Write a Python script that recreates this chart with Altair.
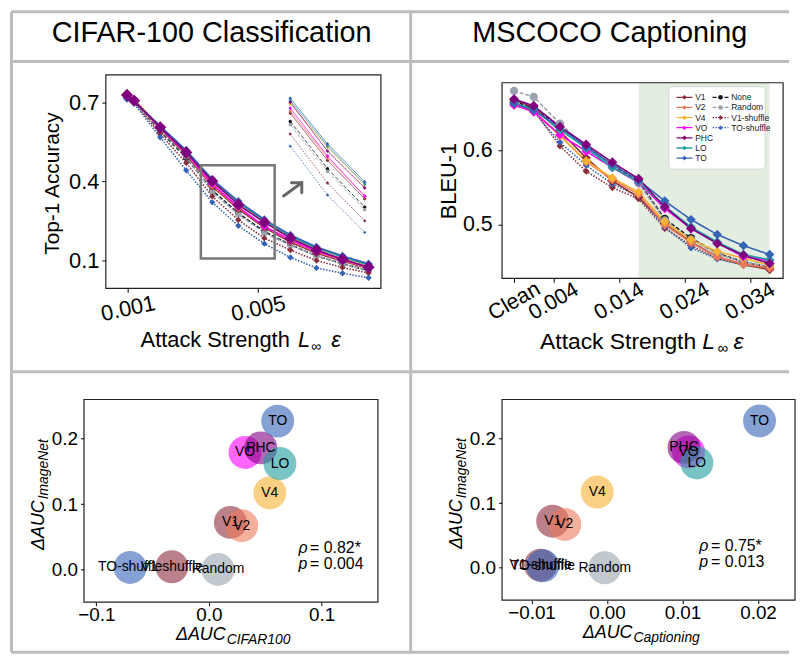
import altair as alt
import pandas as pd

FONT = "Liberation Sans"

# ---------------- data ----------------
series = ["V1", "V2", "V4", "VO", "PHC", "LO", "TO", "None", "Random", "V1-shuffle", "TO-shuffle"]
series_colors = ["#8c2d3c", "#ee7a5c", "#f9b132", "#ff00ff", "#800080", "#1f9e9e", "#3563b5",
                 "#161622", "#98a3ae", "#8c2d3c", "#3563b5"]
series_dash = [[1, 0]] * 7 + [[4, 2], [4, 2], [1.5, 1.5], [1.5, 1.5]]
series_shape = ["diamond"] * 7 + ["circle", "circle", "diamond", "diamond"]
draw_order = ["None", "Random", "V1-shuffle", "TO-shuffle", "V1", "V2", "V4", "VO", "LO", "TO", "PHC"]

cifar_eps = [0.00098, 0.0012, 0.0020, 0.0028, 0.0036, 0.0044, 0.0052, 0.0060, 0.0068, 0.0076, 0.0084]
cifar_acc = {
    "V1":         [0.728, 0.706, 0.600, 0.500, 0.381, 0.295, 0.225, 0.170, 0.128, 0.098, 0.070],
    "V2":         [0.735, 0.708, 0.602, 0.505, 0.385, 0.300, 0.230, 0.175, 0.133, 0.101, 0.072],
    "V4":         [0.732, 0.710, 0.607, 0.512, 0.398, 0.319, 0.250, 0.190, 0.146, 0.112, 0.082],
    "VO":         [0.725, 0.707, 0.603, 0.507, 0.390, 0.303, 0.230, 0.178, 0.136, 0.104, 0.075],
    "PHC":        [0.727, 0.706, 0.605, 0.510, 0.401, 0.312, 0.245, 0.185, 0.140, 0.105, 0.075],
    "LO":         [0.722, 0.705, 0.608, 0.515, 0.404, 0.321, 0.252, 0.192, 0.148, 0.114, 0.084],
    "TO":         [0.715, 0.703, 0.610, 0.518, 0.408, 0.325, 0.256, 0.197, 0.152, 0.118, 0.088],
    "None":       [0.724, 0.703, 0.590, 0.490, 0.366, 0.280, 0.210, 0.160, 0.118, 0.088, 0.062],
    "Random":     [0.726, 0.704, 0.595, 0.495, 0.360, 0.275, 0.205, 0.158, 0.118, 0.088, 0.063],
    "V1-shuffle": [0.720, 0.700, 0.580, 0.470, 0.343, 0.254, 0.185, 0.140, 0.100, 0.074, 0.053],
    "TO-shuffle": [0.710, 0.695, 0.567, 0.442, 0.321, 0.232, 0.164, 0.112, 0.072, 0.052, 0.035],
}
cifar_ticks = [0.001, 0.005]
cifar_yticks = [0.1, 0.4, 0.7]
inset_eps = cifar_eps[4:7]

coco_eps = [-0.002, 0.001, 0.005, 0.009, 0.013, 0.017, 0.021, 0.025, 0.029, 0.033, 0.037]
coco_bleu = {
    "V1":         [0.668, 0.658, 0.626, 0.590, 0.559, 0.537, 0.501, 0.477, 0.457, 0.447, 0.440],
    "V2":         [0.661, 0.652, 0.620, 0.585, 0.561, 0.541, 0.500, 0.476, 0.457, 0.447, 0.442],
    "V4":         [0.661, 0.653, 0.620, 0.586, 0.563, 0.544, 0.504, 0.480, 0.464, 0.455, 0.446],
    "VO":         [0.661, 0.652, 0.621, 0.599, 0.577, 0.557, 0.522, 0.495, 0.476, 0.457, 0.452],
    "PHC":        [0.669, 0.660, 0.632, 0.608, 0.584, 0.562, 0.524, 0.495, 0.475, 0.459, 0.448],
    "LO":         [0.664, 0.655, 0.628, 0.603, 0.577, 0.558, 0.525, 0.497, 0.477, 0.460, 0.453],
    "TO":         [0.663, 0.654, 0.631, 0.605, 0.581, 0.560, 0.532, 0.507, 0.487, 0.472, 0.460],
    "None":       [0.666, 0.657, 0.632, 0.606, 0.580, 0.558, 0.508, 0.482, 0.462, 0.450, 0.443],
    "Random":     [0.680, 0.672, 0.636, 0.604, 0.578, 0.556, 0.506, 0.480, 0.461, 0.450, 0.444],
    "V1-shuffle": [0.664, 0.654, 0.606, 0.572, 0.550, 0.535, 0.495, 0.472, 0.455, 0.446, 0.440],
    "TO-shuffle": [0.662, 0.652, 0.611, 0.580, 0.555, 0.538, 0.497, 0.469, 0.454, 0.446, 0.442],
}
coco_ticks = [-0.002, 0.004, 0.014, 0.024, 0.034]
coco_clean_label = "Clean"
coco_yticks = [0.5, 0.6]
coco_shade = [0.017, 0.037]

scatter_models = ["V1", "V2", "V4", "VO", "PHC", "LO", "TO", "V1-shuffle", "TO-shuffle", "Random"]
dauc_imagenet = [0.072, 0.067, 0.117, 0.179, 0.186, 0.162, 0.227, 0.004, 0.003, 0.000]
dauc_cifar = [0.019, 0.029, 0.054, 0.032, 0.046, 0.063, 0.061, -0.033, -0.070, 0.008]
dauc_caption = [-0.0072, -0.0056, -0.0013, 0.0108, 0.0102, 0.0119, 0.0202, -0.0088, -0.0085, -0.0003]

titles = ["CIFAR-100 Classification", "MSCOCO Captioning"]
rho_text = [("ρ", "= 0.82*", "p", "= 0.004"), ("ρ", "= 0.75*", "p", "= 0.013")]

# ---------------- helpers ----------------
dummy = pd.DataFrame({"d": [0]})
GRID = "#bdbdbd"

color_scale = alt.Scale(domain=series, range=series_colors)
dash_scale = alt.Scale(domain=series, range=series_dash)
shape_scale = alt.Scale(domain=series, range=series_shape)


def seg(x1, y1, x2, y2, color, width, cap="butt"):
    return alt.Chart(dummy).mark_rule(color=color, strokeWidth=width, strokeCap=cap).encode(
        x=alt.value(x1), y=alt.value(y1), x2=alt.value(x2), y2=alt.value(y2))


def box(x1, y1, x2, y2, stroke, width, fill=None, radius=0):
    kw = dict(stroke=stroke, strokeWidth=width, cornerRadius=radius)
    if fill is None:
        kw["fillOpacity"] = 0
    else:
        kw["fill"] = fill
    return alt.Chart(dummy).mark_rect(**kw).encode(
        x=alt.value(x1), y=alt.value(y1), x2=alt.value(x2), y2=alt.value(y2))


def txt(x, y, s, size, align="left", baseline="alphabetic", angle=0, style="normal", color="black"):
    return alt.Chart(dummy).mark_text(text=s, fontSize=size, font=FONT, align=align,
                                      baseline=baseline, angle=angle, fontStyle=style,
                                      color=color).encode(x=alt.value(x), y=alt.value(y))


def long_df(eps, values):
    rows = []
    for s in draw_order:
        for e, v in zip(eps, values[s]):
            rows.append({"series": s, "eps": e, "val": v})
    return pd.DataFrame(rows)


def line_group(df, xscale, yscale, xaxis, yaxis, lw, sizes):
    base = alt.Chart(df)
    X = alt.X("eps:Q", scale=xscale, axis=xaxis)
    Y = alt.Y("val:Q", scale=yscale, axis=yaxis)
    C = alt.Color("series:N", scale=color_scale, legend=None)
    S = alt.Shape("series:N", scale=shape_scale, legend=None)
    lines = base.mark_line(strokeWidth=lw).encode(
        X, Y, C, strokeDash=alt.StrokeDash("series:N", scale=dash_scale, legend=None))
    groups = [["None", "Random"], ["V1-shuffle", "TO-shuffle"],
              ["V1", "V2", "V4", "VO", "LO", "TO"], ["PHC"]]
    layers = [lines]
    for g, sz in zip(groups, sizes):
        layers.append(base.transform_filter(alt.FieldOneOfPredicate(field="series", oneOf=g))
                      .mark_point(filled=True, opacity=1, size=sz, strokeWidth=0)
                      .encode(X, Y, C, S))
    return alt.layer(*layers)


def axis(**kw):
    d = dict(grid=False, domain=False, title=None, tickColor="black", labelColor="black",
             labelFont=FONT, labelFlush=False, labelOverlap=False)
    d.update(kw)
    return alt.Axis(**d)


# ---------------- panel 1 : CIFAR-100 line chart ----------------
W1, H1 = 309, 215
cifar_df = long_df(cifar_eps, cifar_acc)
inset_df = cifar_df[cifar_df["eps"].isin(inset_eps)]

main1 = line_group(
    cifar_df,
    alt.Scale(domain=[0.00033, 0.00878], range=[22, 299], nice=False, zero=False),
    alt.Scale(domain=[-0.005, 0.804], nice=False, zero=False),
    axis(values=cifar_ticks, format=".3f", labelAngle=-12, labelAlign="center",
         labelBaseline="middle", labelPadding=16, tickSize=4, labelFontSize=22),
    axis(values=cifar_yticks, format=".1f", offset=-22, tickSize=4, labelPadding=3, labelFontSize=22),
    1.6, [40, 40, 70, 150])

inset1 = line_group(
    inset_df,
    alt.Scale(domain=[inset_eps[0], inset_eps[-1]], range=[207.7, 282.7], nice=False, zero=False),
    alt.Scale(domain=[0.164, 0.408], range=[158.7, 23.7], nice=False, zero=False),
    None, None, 0.8, [12, 12, 14, 14])

deco1 = [
    # table grid
    seg(-73, -63.5, -73, 581.5, GRID, 3),
    seg(329, -63.5, 329, 581.5, GRID, 3),
    seg(-73, -63.5, 710, -63.5, GRID, 3),
    seg(-73, -13.5, 710, -13.5, GRID, 3),
    seg(-73, 299, 710, 299, GRID, 3),
    seg(-73, 581.5, 710, 581.5, GRID, 3),
    txt(128.5, -33.5, titles[0], 29, align="center"),
    txt(529.5, -33.5, titles[1], 29, align="center"),
]
frame1 = box(22, 0, 299, 215, "#222222", 1.2)
zoom1 = box(117.7, 91, 192, 185, "#777777", 2.5)
arrow1 = [seg(201, 122, 219.3, 108.7, "#666666", 3, "round"),
          seg(219.3, 108.7, 209, 108.7, "#666666", 3, "round"),
          seg(219.3, 108.7, 219.3, 118.7, "#666666", 3, "round")]
titles1 = [
    txt(57, 274, "Attack Strength", 22),
    txt(215.5, 274, "L", 22, style="italic"),
    txt(228.5, 278, "∞", 14),
    txt(249, 274, "ε", 22, style="italic"),
    txt(-31.5, 109.5, "Top-1 Accuracy", 21, align="center", baseline="middle", angle=270),
]
p1 = alt.layer(*deco1, frame1, main1, zoom1, *arrow1, inset1, *titles1).resolve_scale(
    x="independent", y="independent").properties(width=W1, height=H1)

# ---------------- panel 2 : MSCOCO line chart ----------------
W2, H2 = 283, 215
coco_df = long_df(coco_eps, coco_bleu)
x2scale = alt.Scale(domain=[-0.00383, 0.03905], nice=False, zero=False)
y2scale = alt.Scale(domain=[0.428, 0.691], range=[205, 8], nice=False, zero=False)
x2axis = axis(values=coco_ticks, format=".3f",
              labelExpr=f"datum.value < 0 ? '{coco_clean_label}' : datum.label",
              labelAngle=-30, labelAlign="center", labelBaseline="middle", labelPadding=19,
              tickSize=4, labelFontSize=21.5, offset=-10)
y2axis = axis(values=coco_yticks, format=".1f", tickSize=4, labelPadding=6, labelFontSize=21.5)

shade2 = alt.Chart(dummy).mark_rect(color="#e3eee0").encode(
    x=alt.X(datum=coco_shade[0], type="quantitative", scale=x2scale, axis=x2axis),
    x2=alt.X2(datum=coco_shade[1]),
    y=alt.value(8), y2=alt.value(205))
main2 = line_group(coco_df, x2scale, y2scale, x2axis, y2axis, 1.6, [70, 50, 90, 100])
frame2 = box(0, 8, 283, 205, "#222222", 1.2)

leg_rows = [{"series": s, "col": 0, "row": i} for i, s in enumerate(series[:7])] + \
           [{"series": s, "col": 1, "row": i} for i, s in enumerate(series[7:])]
leg_df = pd.DataFrame(leg_rows)
leg_base = alt.Chart(leg_df).transform_calculate(
    lx1="175.7 + 36.3 * datum.col", lx2="191.7 + 36.3 * datum.col",
    lxm="183.7 + 36.3 * datum.col", ltx="194.5 + 36.3 * datum.col",
    ly="22.7 + 10.2 * datum.row")
leg_color = alt.Color("series:N", scale=color_scale, legend=None)
leg_lines = leg_base.mark_rule(strokeWidth=1.3).encode(
    x=alt.X("lx1:Q", scale=None, axis=None), x2="lx2:Q",
    y=alt.Y("ly:Q", scale=None, axis=None), color=leg_color,
    strokeDash=alt.StrokeDash("series:N", scale=dash_scale, legend=None))
leg_pts = leg_base.mark_point(filled=True, opacity=1, size=22, strokeWidth=0).encode(
    x=alt.X("lxm:Q", scale=None, axis=None), y=alt.Y("ly:Q", scale=None, axis=None),
    color=leg_color, shape=alt.Shape("series:N", scale=shape_scale, legend=None))
leg_txt = leg_base.mark_text(align="left", baseline="middle", fontSize=8.5, font=FONT,
                             color="#222222").encode(
    x=alt.X("ltx:Q", scale=None, axis=None), y=alt.Y("ly:Q", scale=None, axis=None),
    text="series:N")
leg_box = box(168, 12, 265, 95, "#d4d4d4", 1, fill="white", radius=4)

titles2 = [
    txt(38.3, 276, "Attack Strength", 23),
    txt(201.7, 276, "L", 23, style="italic"),
    txt(217, 280, "∞", 15),
    txt(233, 276, "ε", 23, style="italic"),
    txt(-53.3, 107, "BLEU-1", 22, align="center", baseline="middle", angle=270),
]
p2 = alt.layer(shade2, frame2, main2, leg_box, leg_lines, leg_pts, leg_txt, *titles2).properties(
    width=W2, height=H2)


# ---------------- panels 3, 4 : scatter ----------------
def scatter_panel(xs, xdom, xticks, xfmt, w, h, xsub, xsplit, ann, ann_x):
    df = pd.DataFrame({"model": scatter_models, "x": xs, "y": dauc_imagenet})
    X = alt.X("x:Q", scale=alt.Scale(domain=xdom, nice=False, zero=False),
              axis=axis(values=xticks, format=xfmt, tickSize=3.5, labelPadding=9,
                        labelBaseline="middle", labelFontSize=19))
    Y = alt.Y("y:Q", scale=alt.Scale(domain=[-0.05, 0.26], nice=False, zero=False),
              axis=axis(values=[0.0, 0.1, 0.2], format=".1f", tickSize=3.5, labelPadding=3,
                        labelFontSize=19))
    circles = alt.Chart(df).mark_circle(size=1100, opacity=0.6).encode(
        X, Y, color=alt.Color("model:N", scale=color_scale, legend=None))
    labels = alt.Chart(df).mark_text(fontSize=14, font=FONT, color="black",
                                     baseline="middle").encode(X, Y, text="model:N")
    frame = box(0, 0, w, h, "#222222", 1.2)
    ya = h - 49
    extra = [
        txt(xsplit, h + 38, "ΔAUC", 18, align="right", style="italic"),
        txt(xsplit + 1, h + 42, xsub, 14, style="italic"),
        txt(-45, h / 2 + 49.5, "ΔAUC", 18, baseline="middle", angle=270, style="italic"),
        txt(-40, h / 2 - 1.5, "ImageNet", 14, baseline="middle", angle=270, style="italic"),
        txt(ann_x, ya, ann[0], 16, style="italic"),
        txt(ann_x + 11.7, ya, ann[1], 16),
        txt(ann_x, ya + 16, ann[2], 16, style="italic"),
        txt(ann_x + 11.7, ya + 16, ann[3], 16),
    ]
    return alt.layer(frame, circles, labels, *extra).properties(width=w, height=h)


p3 = scatter_panel(dauc_cifar, [-0.111, 0.15], [-0.1, 0.0, 0.1], ".1f", 296, 204,
                   "CIFAR100", 142.7, rho_text[0], 216)
p4 = scatter_panel(dauc_caption, [-0.0139, 0.0249], [-0.01, 0.0, 0.01, 0.02], ".2f", 295, 202,
                   "Captioning", 131.3, rho_text[1], 198.7)

chart = alt.ConcatChart(
    concat=[p1, p2, p3, p4], columns=2, spacing=112, bounds="flush", align="none",
    padding={"left": 1.5, "top": 0, "right": 0, "bottom": 0},
    background="white",
).configure_view(stroke=None).configure_axis(labelFont=FONT)

chart.save("out.html", embed_options={"renderer": "svg", "actions": False})
